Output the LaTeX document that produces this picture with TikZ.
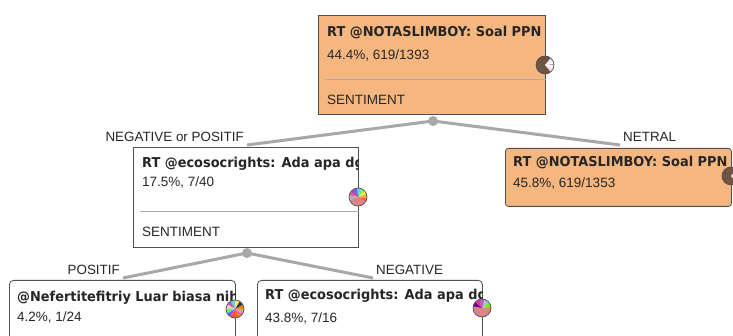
\documentclass[tikz,border=0pt]{standalone}
\usepackage{fontspec}
\setmainfont{Liberation Sans}
\newfontfamily\dvs{DejaVu Sans}[FakeStretch=0.95]
\definecolor{orangef}{HTML}{F5B77F}
\definecolor{bordc}{HTML}{505050}
\definecolor{edgec}{HTML}{A8A8A8}
\definecolor{sepc}{HTML}{ABABAB}
\definecolor{brownp}{HTML}{6E5542}
\definecolor{rosep}{HTML}{D98585}
\tikzset{
  box/.style={draw=bordc, line width=0.8pt, anchor=north west, inner sep=0pt},
  bt/.style={anchor=base west, inner sep=0pt, font=\dvs\bfseries\fontsize{13.6}{15}\selectfont, text=black!85},
  rt/.style={anchor=base west, inner sep=0pt, font=\fontsize{13.5}{15}\selectfont, text=black!85},
  lab/.style={inner sep=3pt, font=\fontsize{13.4}{15}\selectfont, text=black!85},
  edge/.style={draw=edgec, line width=3pt},
  dot/.style={circle, fill=edgec, minimum size=10pt, inner sep=0pt},
  sep/.style={draw=sepc, line width=1pt},
  pieb/.style={circle, draw=bordc, line width=0.7pt, minimum size=18pt, inner sep=0pt}
}
\newcommand{\slc}[4]{\fill[#4] (#1) -- ++(#2:9pt) arc[start angle=#2, end angle=#3, radius=9pt] -- cycle;}
\begin{document}
\begin{tikzpicture}[x=1pt,y=-1pt]
\useasboundingbox (0,0) rectangle (733,336);
\fill[white] (0,0) rectangle (733,336);

% ---------- edges ----------
\node[lab, anchor=south east] (l1) at (247,145) {NEGATIVE or POSITIF};
\node[lab, anchor=south west] (l2) at (620,145) {NETRAL};
\node[lab, anchor=south east] (l3) at (123,278) {POSITIF};
\node[lab, anchor=south west] (l4) at (373,278) {NEGATIVE};
\coordinate (dc1) at (433,121);
\coordinate (dc2) at (247,253);
\draw[edge] (dc1) -- (l1.south east);
\draw[edge] (dc1) -- (l2.south west);
\draw[edge] (dc2) -- (l3.south east);
\draw[edge] (dc2) -- (l4.south west);

% ---------- root ----------
\node[box, fill=orangef, minimum width=227pt, minimum height=99pt] (root) at (318,15) {};
\begin{scope}
\clip (root.north west) rectangle (root.south east);
\node[bt] (r1) at (327,37) {RT @NOTASLIMBOY: Soal PPN naik};
\node[rt] (r2) at (327,59.5) {44.4\%, 619/1393};
\draw[sep] (325,79.5) -- (root.east |- 0,79.5);
\node[rt] (r3) at (327,105) {SENTIMENT};
\end{scope}
\node[dot] (d1) at (dc1) {};

% ---------- left child ----------
\node[box, fill=white, minimum width=225pt, minimum height=100pt] (lc) at (133,147) {};
\begin{scope}
\clip (lc.north west) rectangle (lc.south east);
\node[bt] (c1) at (142,167.3) {RT @ecosocrights: Ada apa dgn};
\node[rt] (c2) at (142,186.7) {17.5\%, 7/40};
\draw[sep] (140,211.7) -- (lc.east |- 0,211.7);
\node[rt] (c3) at (142,237) {SENTIMENT};
\end{scope}
\node[dot] (d2) at (dc2) {};

% ---------- netral ----------
\node[box, fill=orangef, rounded corners=3pt, minimum width=226pt, minimum height=58pt] (nt) at (505,148) {};
\begin{scope}
\clip (nt.north west) rectangle (nt.south east);
\node[bt] (n1) at (513,166.7) {RT @NOTASLIMBOY: Soal PPN naik};
\node[rt] (n2) at (513,187.3) {45.8\%, 619/1353};
\end{scope}

% ---------- bottom left ----------
\node[box, fill=white, rounded corners=4pt, minimum width=226pt, minimum height=90pt] (bl) at (9,280) {};
\begin{scope}
\clip (bl.north west) rectangle (bl.south east);
\node[bt] (b1) at (17,302) {@Nefertitefitriy Luar biasa nih};
\node[rt] (b2) at (17,321.7) {4.2\%, 1/24};
\end{scope}

% ---------- bottom right ----------
\node[box, fill=white, rounded corners=4pt, minimum width=225pt, minimum height=90pt] (br) at (257,280) {};
\begin{scope}
\clip (br.north west) rectangle (br.south east);
\node[bt] (e1) at (265,300) {RT @ecosocrights: Ada apa dgn};
\node[rt] (e2) at (265,322.3) {43.8\%, 7/16};
\end{scope}

% ---------- pies ----------
\coordinate (pc1) at (545,65);
\slc{pc1}{50}{310}{brownp}
\slc{pc1}{-50}{-25}{pink!60}
\slc{pc1}{-25}{0}{white}
\slc{pc1}{0}{8}{violet!50}
\slc{pc1}{8}{30}{white!90!pink}
\slc{pc1}{30}{50}{pink!40}
\node[pieb] (p1) at (pc1) {};

\coordinate (pc2) at (731,176);
\slc{pc2}{50}{310}{brownp}
\slc{pc2}{-50}{50}{pink!50}
\node[pieb] (p2) at (pc2) {};

\coordinate (pc3) at (358,197);
\slc{pc3}{200}{330}{rosep}
\slc{pc3}{330}{350}{red!70}
\slc{pc3}{-10}{20}{orange!70}
\slc{pc3}{20}{45}{yellow!80}
\slc{pc3}{45}{70}{green!60}
\slc{pc3}{70}{95}{cyan!60}
\slc{pc3}{95}{120}{blue!60}
\slc{pc3}{120}{145}{violet!70}
\slc{pc3}{145}{170}{magenta!70}
\slc{pc3}{170}{200}{gray!60}
\node[pieb] (p3) at (pc3) {};

\coordinate (pc4) at (235,309);
\slc{pc4}{0}{30}{orange}
\slc{pc4}{30}{60}{black!80}
\slc{pc4}{60}{90}{yellow!70}
\slc{pc4}{90}{120}{cyan!60}
\slc{pc4}{120}{150}{violet!60}
\slc{pc4}{150}{180}{pink!80}
\slc{pc4}{180}{210}{green!60}
\slc{pc4}{210}{240}{blue!60}
\slc{pc4}{240}{270}{red!70}
\slc{pc4}{270}{300}{orange!80!red}
\slc{pc4}{300}{330}{magenta!60}
\slc{pc4}{330}{360}{brown!70}
\node[pieb] (p4) at (pc4) {};

\coordinate (pc5) at (482,308);
\slc{pc5}{170}{370}{rosep}
\slc{pc5}{10}{40}{green!60!yellow}
\slc{pc5}{40}{75}{blue!30}
\slc{pc5}{75}{110}{violet!60}
\slc{pc5}{110}{140}{magenta!80}
\slc{pc5}{140}{170}{violet!80!blue}
\node[pieb] (p5) at (pc5) {};
\end{tikzpicture}
\end{document}
